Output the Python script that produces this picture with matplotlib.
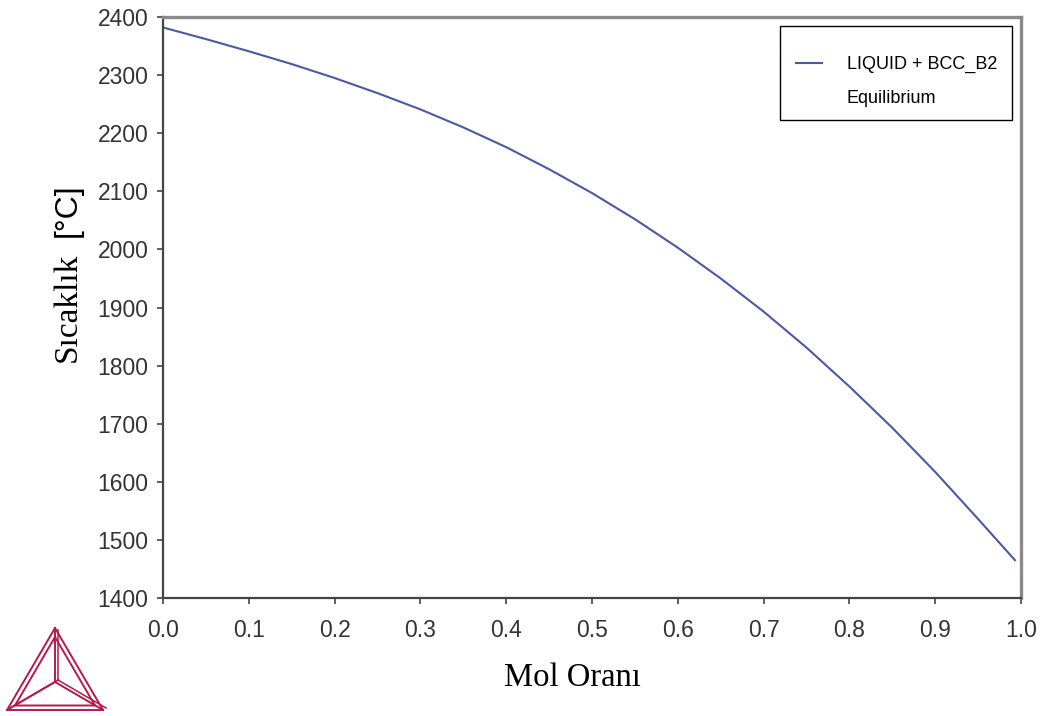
import matplotlib.pyplot as plt
from matplotlib.lines import Line2D
from matplotlib.patches import Rectangle

mol_orani = [0.0, 0.05, 0.1, 0.15, 0.2, 0.25, 0.3, 0.35, 0.4, 0.45, 0.5,
             0.55, 0.6, 0.65, 0.7, 0.75, 0.8, 0.85, 0.9, 0.95, 0.993]
sicaklik = [2382, 2362, 2341, 2319, 2295, 2269, 2241, 2210, 2176, 2138, 2097,
            2052, 2003, 1950, 1893, 1831, 1764, 1693, 1617, 1536, 1465]

x_ticks = [0.0, 0.1, 0.2, 0.3, 0.4, 0.5, 0.6, 0.7, 0.8, 0.9, 1.0]
y_ticks = [1400, 1500, 1600, 1700, 1800, 1900, 2000, 2100, 2200, 2300, 2400]

W, H = 1045, 716
fig = plt.figure(figsize=(W / 100, H / 100), dpi=100)
ax = fig.add_axes([163 / W, 1 - 598 / H, (1021 - 163) / W, (598 - 17) / H])

line, = ax.plot(mol_orani, sicaklik, color="#4b58a6", linewidth=1.5)

ax.set_xlim(0, 1.0)
ax.set_ylim(1400, 2400)
ax.set_xticks(x_ticks)
ax.set_xticklabels(["%.1f" % t for t in x_ticks])
ax.set_yticks(y_ticks)

ax.tick_params(direction="out", length=4.5, width=1.2, color="#444444",
               labelsize=16.5, labelcolor="#333333", top=False, right=False)
ax.tick_params(axis="x", pad=10.5)
ax.tick_params(axis="y", pad=6)
for lab in ax.get_xticklabels() + ax.get_yticklabels():
    lab.set_family("Liberation Sans")

for s in ["left", "bottom"]:
    ax.spines[s].set_color("#444444")
    ax.spines[s].set_linewidth(1.6)
for s in ["top", "right"]:
    ax.spines[s].set_color("#8a8a8a")
    ax.spines[s].set_linewidth(2.4)

# axis titles
fig.text(572 / W, 1 - 678 / H, "Mol Oranı", family="Liberation Serif",
         fontsize=23.5, ha="center", va="center")
fig.text(67 / W, 1 - 362 / H, "Sıcaklık", family="Liberation Serif",
         fontsize=24, rotation=90, ha="center", va="bottom")
fig.text(68 / W, 1 - 237 / H, "[°C]", family="Liberation Sans",
         fontsize=23, rotation=90, ha="center", va="bottom")

# legend: entries from the line, frame drawn as a box
blank = Line2D([], [], color="none")
leg = ax.legend([line, blank], ["LIQUID + BCC_B2", "Equilibrium"],
                loc="upper left", bbox_to_anchor=((796 - 163) / 858, 1 - (56 - 17) / 581),
                frameon=False, prop={"family": "Liberation Sans", "size": 13},
                handlelength=1.45, handletextpad=1.35, borderpad=0,
                labelspacing=0.95, borderaxespad=0)
fig.patches.append(Rectangle((780 / W, 1 - 120 / H), 232 / W, 94 / H,
                             transform=fig.transFigure, fill=False,
                             edgecolor="black", linewidth=1.0, zorder=5))

# Thermo-Calc logo
logo = fig.add_axes([0, 0, 1, 1], zorder=-1)
logo.set_xlim(0, W)
logo.set_ylim(H, 0)
logo.axis("off")
c = "#b8194c"
A, B, C, O = (55, 628), (7, 710), (103, 710), (55, 682)
for off in (0, 5):
    a = (A[0], A[1] + off * 1.8)
    b = (B[0] + off * 1.6, B[1] - off * 0.9)
    cc = (C[0] - off * 1.6, C[1] - off * 0.9)
    logo.plot([a[0], b[0], cc[0], a[0]], [a[1], b[1], cc[1], a[1]], color=c, lw=1.4)
for v in (A, B, C):
    logo.plot([O[0], v[0]], [O[1], v[1]], color=c, lw=1.4)
    logo.plot([O[0] + 3, v[0] + 3], [O[1] - 2, v[1] - (2 if v != A else -2)], color=c, lw=1.1)

fig.savefig("out.png", dpi=100)
